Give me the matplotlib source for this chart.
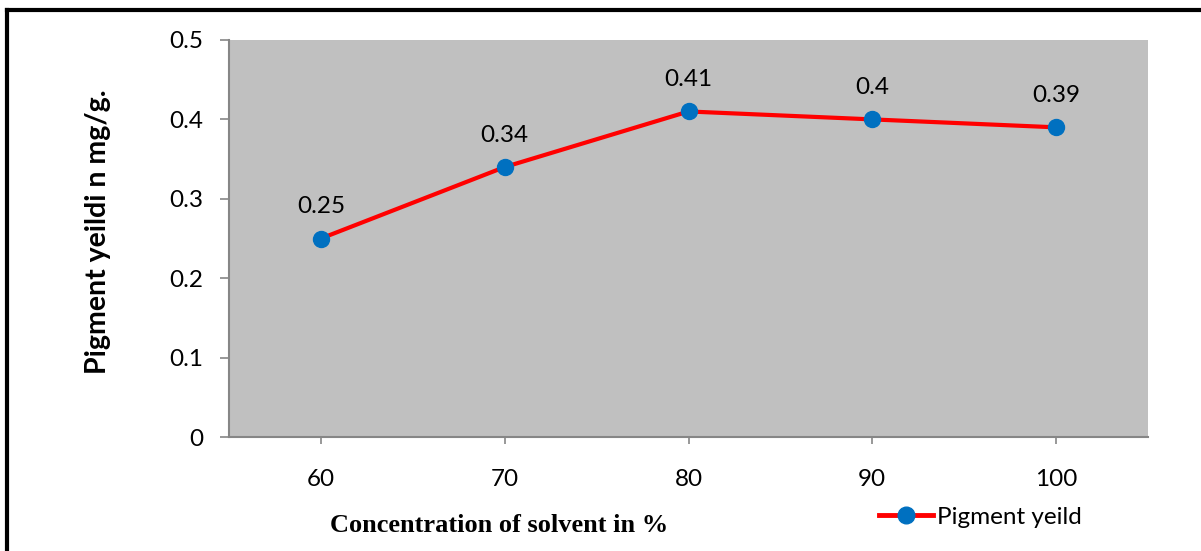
import matplotlib.pyplot as plt
from matplotlib.lines import Line2D

concentration = ['60', '70', '80', '90', '100']
pigment_yield = [0.25, 0.34, 0.41, 0.4, 0.39]
yticks = [0, 0.1, 0.2, 0.3, 0.4, 0.5]
ytick_labels = ['0', '0.1', '0.2', '0.3', '0.4', '0.5']

axis_grey = '#868686'
line_red = '#FF0000'
marker_blue = '#0070C0'

fig = plt.figure(figsize=(12.01, 5.51), dpi=100)
ax = fig.add_axes([229 / 1201, 1 - 437 / 551, (1148 - 229) / 1201, (437 - 40) / 551])
ax.set_facecolor('#C0C0C0')

x = list(range(len(concentration)))
ax.plot(x, pigment_yield, color=line_red, lw=3, marker='o', ms=11.5,
        mfc=marker_blue, mec=marker_blue, label='Pigment yeild', zorder=3)

for xi, yi in zip(x, pigment_yield):
    ax.annotate(f'{yi:g}', (xi, yi), xytext=(0, 23), textcoords='offset points',
                ha='center', va='center', fontsize=17.5, family='Lato')

ax.set_xlim(-0.5, len(concentration) - 0.5)
ax.set_ylim(0, 0.5)
ax.set_xticks(x)
ax.set_xticklabels(concentration, fontsize=17.5, family='Lato')
ax.set_yticks(yticks)
ax.set_yticklabels(ytick_labels, fontsize=17.5, family='Lato')
ax.tick_params(axis='x', direction='out', length=5, color=axis_grey, width=1.2, pad=18)
ax.tick_params(axis='y', direction='out', length=6.5, color=axis_grey, width=1.2, pad=12)

for side in ['top', 'right']:
    ax.spines[side].set_visible(False)
for side in ['left', 'bottom']:
    ax.spines[side].set_color(axis_grey)
    ax.spines[side].set_linewidth(1.5)

fig.text(98 / 1201, 1 - 232 / 551, 'Pigment yeildi n mg/g.', rotation=90, ha='center',
         va='center', fontsize=20.5, fontweight='bold', family='Lato')
fig.text(499 / 1201, 1 - 526 / 551, 'Concentration of solvent in %', ha='center',
         va='center', fontsize=19, fontweight='bold', family='Liberation Serif')

handle = Line2D([], [], color=line_red, lw=3.5, marker='o', ms=12,
                mfc=marker_blue, mec=marker_blue)
fig.legend([handle], ['Pigment yeild'], loc='center left',
           bbox_to_anchor=(867 / 1201, 1 - 517 / 551), frameon=False, borderpad=0,
           handlelength=2.2, handletextpad=0.2, prop={'family': 'Lato', 'size': 17.5})

# outer frame: top and left edges only show in the crop
fig.add_artist(Line2D([7 / 1201, 1], [1 - 10 / 551, 1 - 10 / 551], color='black', lw=3,
                      transform=fig.transFigure))
fig.add_artist(Line2D([7 / 1201, 7 / 1201], [0, 1 - 10 / 551], color='black', lw=3,
                      transform=fig.transFigure))

fig.savefig('out.png', dpi=100)
